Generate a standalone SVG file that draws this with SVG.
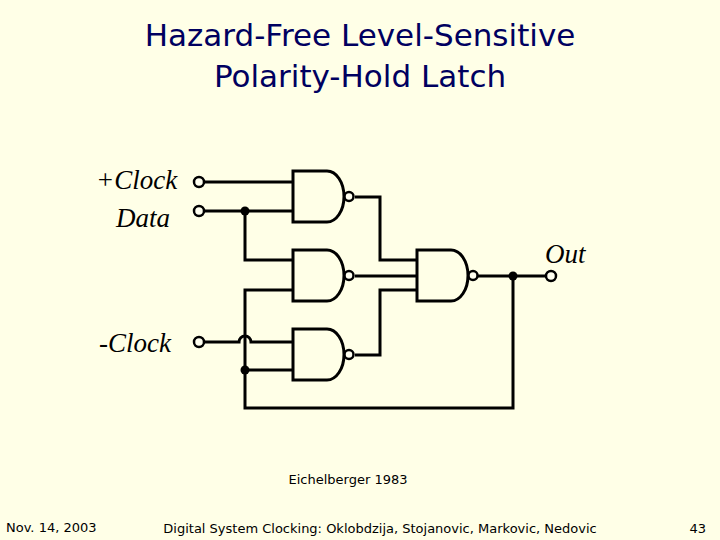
<svg xmlns="http://www.w3.org/2000/svg" width="720" height="540" viewBox="0 0 720 540">
<style>
.w{fill:none;stroke:#000;stroke-width:3}
.g{fill:none;stroke:#000;stroke-width:3}
.b{fill:#fffff0;stroke:#000;stroke-width:2.5}
.d{fill:#000}
.t{font-family:"DejaVu Sans",sans-serif;fill:#000060}
.l{font-family:"Liberation Serif",serif;font-style:italic;font-size:27px;fill:#000}
.f{font-family:"DejaVu Sans",sans-serif;font-size:13px;fill:#000}
</style>
<defs>
<g id="nand"><path class="g" d="M0,0 H34 A17,25.5 0 0 1 34,51 H0 Z"/><circle class="b" cx="56" cy="25.5" r="4.5"/></g>
</defs>
<rect width="720" height="540" fill="#ffffe7"/>
<text class="t" x="360" y="46" font-size="31" text-anchor="middle">Hazard-Free Level-Sensitive</text>
<text class="t" x="360" y="87" font-size="31" text-anchor="middle">Polarity-Hold Latch</text>
<g id="connectors">
<path class="w" d="M203,182 H293"/>
<path class="w" d="M203,211 H293"/>
<path class="w" d="M245,211 V260 H293"/>
<path class="w" d="M203,342 H239 A6,6 0 0 1 251,342 H293"/>
<path class="w" d="M245,370 H293"/>
<path class="w" d="M293,290 H245 V408 H513 V276"/>
<path class="w" d="M355,197 H380 V260 H417"/>
<path class="w" d="M355,276 H417"/>
<path class="w" d="M355,355 H380 V290 H417"/>
<path class="w" d="M478,276 H547"/>
<circle class="d" cx="245" cy="211" r="4.5"/>
<circle class="d" cx="245" cy="370" r="4.5"/>
<circle class="d" cx="513" cy="276" r="4.5"/>
</g>
<g id="in-clk"><circle class="b" cx="199" cy="182" r="5"/><text class="l" x="96" y="189">+Clock</text></g>
<g id="in-data"><circle class="b" cx="199" cy="211" r="5"/><text class="l" x="116" y="227">Data</text></g>
<g id="in-nclk"><circle class="b" cx="199" cy="342" r="5"/><text class="l" x="99" y="352">-Clock</text></g>
<g id="out"><circle class="b" cx="551" cy="276" r="5"/><text class="l" x="545" y="263">Out</text></g>
<g id="g1"><use href="#nand" x="293" y="171"/></g>
<g id="g2"><use href="#nand" x="293" y="250"/></g>
<g id="g3"><use href="#nand" x="293" y="329"/></g>
<g id="g4"><use href="#nand" x="417" y="250"/></g>
<text class="f" x="348" y="484" font-size="16" text-anchor="middle">Eichelberger 1983</text>
<text class="f" x="6" y="532">Nov. 14, 2003</text>
<text class="f" x="380" y="533" text-anchor="middle">Digital System Clocking: Oklobdzija, Stojanovic, Markovic, Nedovic</text>
<text class="f" x="706" y="533" text-anchor="end">43</text>
</svg>
